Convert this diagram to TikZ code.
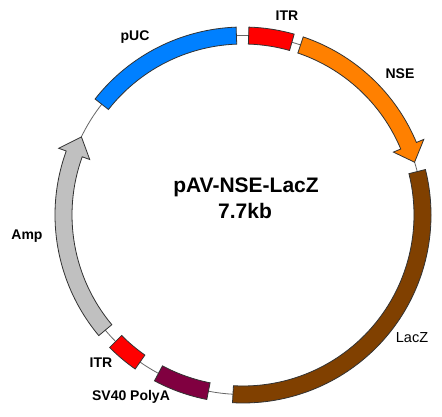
\documentclass[tikz,border=0pt]{standalone}
\usepackage{fontspec}
\setmainfont{Liberation Sans}
\definecolor{pucblue}{RGB}{0,128,255}
\definecolor{itrred}{RGB}{255,0,0}
\definecolor{nseorange}{RGB}{255,128,0}
\definecolor{laczbrown}{RGB}{128,64,0}
\definecolor{svmaroon}{RGB}{128,0,64}
\definecolor{ampgrey}{RGB}{192,192,192}
\definecolor{outl}{RGB}{50,50,50}
\newcommand\plband[3]{\draw[feat,fill=#1] (#2:188pt) arc[start angle=#2,end angle=#3,radius=188pt] -- (#3:171pt) arc[start angle=#3,end angle=#2,radius=171pt] -- cycle;}
\newcommand\plarrow[4]{% color, start, head base, tip
\draw[feat,fill=#1] (#2:188pt) arc[start angle=#2,end angle=#3,radius=188pt] -- (#3:196pt) -- (#4:179.5pt) -- (#3:163pt) -- (#3:171pt) arc[start angle=#3,end angle=#2,radius=171pt] -- cycle;}
\tikzset{
  feat/.style={draw=outl,line width=0.8pt,line join=miter},
  lbl/.style={font=\bfseries\fontsize{14}{16}\selectfont,inner sep=0pt},
  ttl/.style={font=\bfseries\fontsize{21}{24}\selectfont,inner sep=0pt}
}
\begin{document}
\begin{tikzpicture}
\useasboundingbox (0pt,0pt) rectangle (442pt,416pt);
\fill[white] (0pt,0pt) rectangle (442pt,416pt);
\begin{scope}[shift={(243pt,201pt)}]
  \draw[gray!80!black,line width=0.8pt] (0,0) circle[radius=179.5pt];
  \plband{pucblue}{92.1}{141.9}
  \plband{itrred}{74.2}{88.2}
  \plarrow{nseorange}{71.3}{22.7}{17.1}
  \plband{laczbrown}{14}{-93.2}
  \plband{svmaroon}{-101.1}{-118.1}
  \plband{itrred}{-125}{-135.2}
  \plarrow{ampgrey}{-140.1}{-199.9}{-205.8}
\end{scope}
\node[lbl] (lpuc) at (135pt,379pt) {pUC};
\node[lbl] (litrtop) at (287pt,400pt) {ITR};
\node[lbl] (lnse) at (400pt,342pt) {NSE};
\node[lbl,font=\fontsize{14.5}{16}\selectfont] (llacz) at (412pt,78pt) {LacZ};
\node[lbl] (litrbot) at (101pt,53pt) {ITR};
\node[lbl] (lsv) at (131pt,19pt) {SV40 PolyA};
\node[lbl] (lamp) at (27pt,180pt) {Amp};
\node[ttl] (title) at (246pt,229pt) {pAV-NSE-LacZ};
\node[ttl] (size) at (245pt,205pt) {7.7kb};
\end{tikzpicture}
\end{document}
